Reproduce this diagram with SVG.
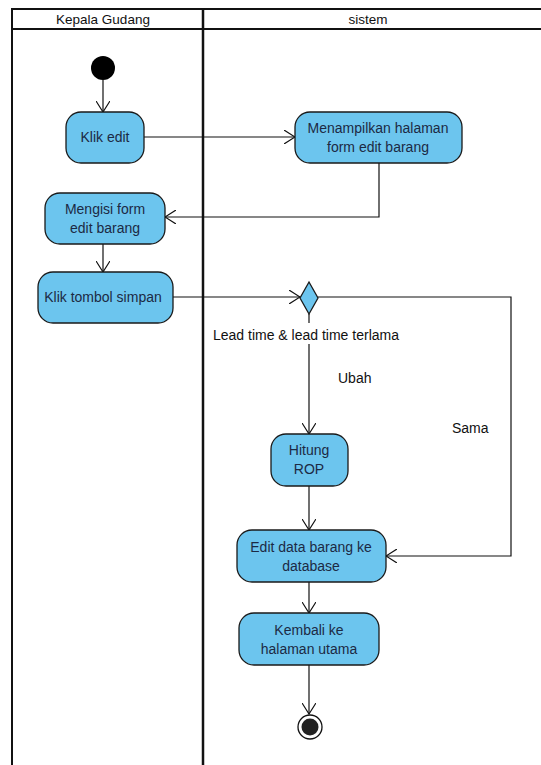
<svg xmlns="http://www.w3.org/2000/svg" width="541" height="765" viewBox="0 0 541 765">
<style>
.lane{fill:none;stroke:#111;stroke-width:2}
.act{fill:#6CC5EE;stroke:#1a1a1a;stroke-width:1.3}
.t{font-family:"Liberation Sans",Arial,sans-serif;font-size:14px;fill:#1c2a44;text-anchor:middle}
.h{font-family:"Liberation Sans",Arial,sans-serif;font-size:13.5px;fill:#111;text-anchor:middle}
.lbl{font-family:"Liberation Sans",Arial,sans-serif;font-size:14px;fill:#111}
.c{fill:none;stroke:#111;stroke-width:1.2}
</style>
<defs>
<marker id="a" markerWidth="12" markerHeight="14" refX="11" refY="7" orient="auto" markerUnits="userSpaceOnUse">
<path d="M0,0 L11,7 L0,14" fill="none" stroke="#111" stroke-width="1.2"/>
</marker>
</defs>
<rect width="541" height="765" fill="#fff"/>
<g id="swimlanes">
<line class="lane" x1="12" y1="9" x2="541" y2="9"/>
<line class="lane" x1="12" y1="29" x2="541" y2="29"/>
<line class="lane" x1="12" y1="8" x2="12" y2="765"/>
<line class="lane" x1="203" y1="8" x2="203" y2="765" style="stroke-width:2.5"/>
<text class="h" x="103" y="24">Kepala Gudang</text>
<text class="h" x="368" y="24">sistem</text>
</g>
<g id="connectors">
<line class="c" x1="103" y1="80" x2="103" y2="112" marker-end="url(#a)"/>
<line class="c" x1="144" y1="137" x2="295" y2="137" marker-end="url(#a)"/>
<polyline class="c" points="379,163 379,217 165,217" marker-end="url(#a)"/>
<line class="c" x1="103" y1="244" x2="103" y2="272" marker-end="url(#a)"/>
<line class="c" x1="173" y1="297" x2="300" y2="297" marker-end="url(#a)"/>
<polyline class="c" points="318,297 511,297 511,556 386,556" marker-end="url(#a)"/>
<line class="c" x1="309" y1="314" x2="309" y2="323"/>
<line class="c" x1="309" y1="344" x2="309" y2="434" marker-end="url(#a)"/>
<line class="c" x1="309" y1="486" x2="309" y2="530" marker-end="url(#a)"/>
<line class="c" x1="309" y1="582" x2="309" y2="613" marker-end="url(#a)"/>
<line class="c" x1="309" y1="665" x2="309" y2="714" marker-end="url(#a)"/>
<text class="lbl" x="213" y="340">Lead time &amp; lead time terlama</text>
<text class="lbl" x="338" y="383">Ubah</text>
<text class="lbl" x="452" y="433">Sama</text>
</g>
<g id="start"><circle cx="103" cy="68" r="12" fill="#000"/></g>
<g id="klik-edit">
<rect class="act" x="66" y="112" width="78" height="51" rx="15"/>
<text class="t" x="105" y="142">Klik edit</text>
</g>
<g id="menampilkan">
<rect class="act" x="295" y="112" width="167" height="51" rx="15"/>
<text class="t" x="378" y="133">Menampilkan halaman</text>
<text class="t" x="378" y="152">form edit barang</text>
</g>
<g id="mengisi">
<rect class="act" x="45" y="193" width="120" height="51" rx="15"/>
<text class="t" x="105" y="214">Mengisi form</text>
<text class="t" x="105" y="233">edit barang</text>
</g>
<g id="klik-simpan">
<rect class="act" x="38" y="272" width="135" height="51" rx="15"/>
<text class="t" x="103" y="302">Klik tombol simpan</text>
</g>
<g id="decision">
<polygon class="act" points="309,282 318,298 309,314 300,298"/>
</g>
<g id="hitung">
<rect class="act" x="271" y="434" width="77" height="52" rx="15"/>
<text class="t" x="309" y="455">Hitung</text>
<text class="t" x="309" y="474">ROP</text>
</g>
<g id="edit-data">
<rect class="act" x="237" y="530" width="149" height="52" rx="15"/>
<text class="t" x="311" y="552">Edit data barang ke</text>
<text class="t" x="311" y="571">database</text>
</g>
<g id="kembali">
<rect class="act" x="239" y="613" width="140" height="52" rx="15"/>
<text class="t" x="309" y="635">Kembali ke</text>
<text class="t" x="309" y="654">halaman utama</text>
</g>
<g id="end">
<circle cx="310" cy="727" r="12" fill="#fff" stroke="#111" stroke-width="1.3"/>
<circle cx="310" cy="727" r="8.5" fill="#222"/>
</g>
</svg>
